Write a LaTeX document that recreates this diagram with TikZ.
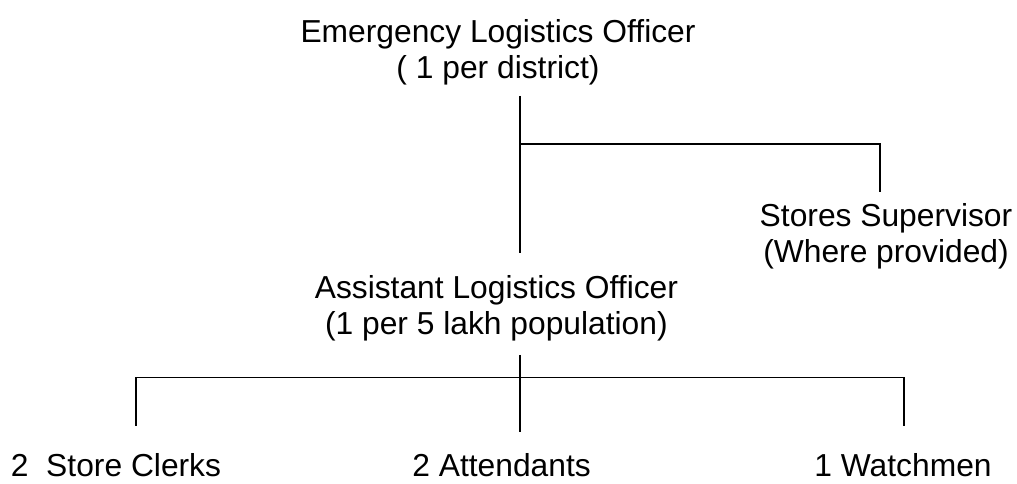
\documentclass[tikz,border=0pt]{standalone}
\usepackage{fontspec}
\setmainfont{Liberation Sans}
\usepackage{tikz}
\usetikzlibrary{positioning, calc}

\begin{document}
\begin{tikzpicture}[
    post/.style={align=center, inner sep=0pt, font=\fontsize{22.6}{25.6}\selectfont},
    orgline/.style={line width=1.2pt, black}
  ]
  \useasboundingbox (0, 0) rectangle (25.425, 12.1);

  % Posts
  \node[post] (elo) at (12.45, 10.8) {Emergency Logistics Officer\\( 1 per district)};
  \node[post] (ss) at (22.15, 6.19) {Stores Supervisor\\(Where provided)};
  \node[post] (alo) at (12.41, 4.405) {Assistant Logistics Officer\\(1 per 5 lakh population)};

  % Staff under the assistant officer
  \node[post, anchor=base] (clerks) at (2.9, 0.175) {2\ \ Store Clerks};
  \node[post, anchor=base] (att) at (12.54, 0.175) {2 Attendants};
  \node[post, anchor=base] (watch) at (22.575, 0.175) {1 Watchmen};

  % Line points
  \coordinate (eloTop) at (13.0, 9.7);
  \coordinate (eloJoin) at (13.0, 8.5);
  \coordinate (ssCorner) at (22.0, 8.5);
  \coordinate (ssDrop) at (22.0, 7.3);
  \coordinate (eloBot) at (13.0, 5.775);
  \coordinate (aloTop) at (13.0, 3.225);
  \coordinate (aloBot) at (13.0, 1.3);
  \coordinate (clerksCorner) at (3.4, 2.66);
  \coordinate (clerksDrop) at (3.4, 1.45);
  \coordinate (watchCorner) at (22.6, 2.66);
  \coordinate (watchDrop) at (22.6, 1.45);

  % Upper level
  \draw[orgline] (eloTop) -- (eloBot);
  \draw[orgline] (eloJoin) -- (ssCorner) -- (ssDrop);

  % Lower level
  \draw[orgline] (aloTop) -- (aloBot);
  \draw[orgline] (clerksDrop) -- (clerksCorner) -- (watchCorner) -- (watchDrop);
\end{tikzpicture}
\end{document}
